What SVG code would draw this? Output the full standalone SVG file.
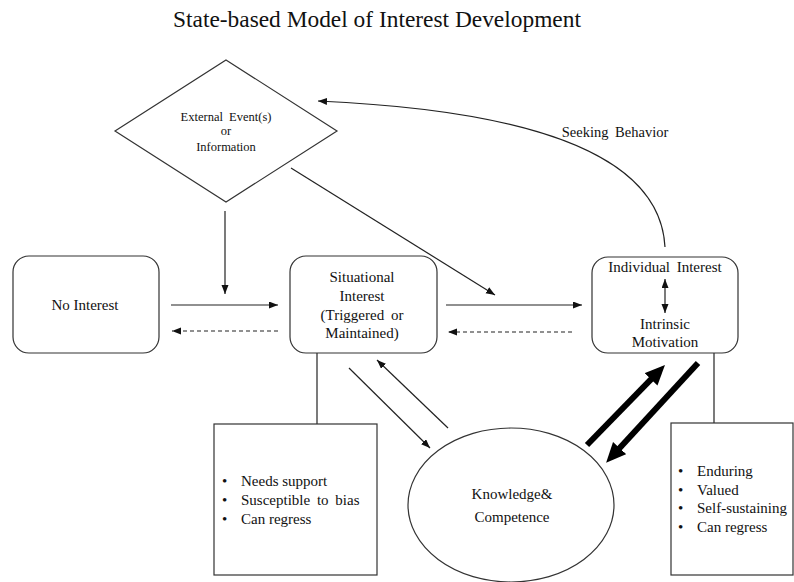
<svg xmlns="http://www.w3.org/2000/svg" width="794" height="582" viewBox="0 0 794 582" font-family="'Liberation Serif', 'DejaVu Serif', serif">
<style>
text{fill:#111;}
.t{font-size:15px;text-anchor:middle;}
.b{font-size:15px;}
.ws{word-spacing:3px;}
.shape{fill:#fff;stroke:#333;stroke-width:1.2;}
.ln{fill:none;stroke:#222;stroke-width:1.2;}
.dash{stroke-dasharray:4,3;}
.thick{fill:none;stroke:#000;stroke-width:6;}
</style>
<defs>
<marker id="ah" markerUnits="userSpaceOnUse" markerWidth="10" markerHeight="8" refX="9" refY="3.5" orient="auto-start-reverse">
<path d="M0,0 L9,3.5 L0,7 z" fill="#111"/>
</marker>
<marker id="big" markerUnits="userSpaceOnUse" markerWidth="22" markerHeight="20" refX="2" refY="9" orient="auto">
<path d="M0,0 L20,9 L0,18 z" fill="#000"/>
</marker>
</defs>
<rect width="794" height="582" fill="#fff"/>
<text x="173" y="27" font-size="23.4">State-based Model of Interest Development</text>

<g id="connectors">
<path class="ln" d="M665,247 C660,150 520,110 318,101" marker-end="url(#ah)"/>
<line class="ln" x1="225" y1="211" x2="225" y2="294" marker-end="url(#ah)"/>
<line class="ln" x1="291" y1="168" x2="495" y2="295" marker-end="url(#ah)"/>
<line class="ln" x1="171" y1="305" x2="278" y2="305" marker-end="url(#ah)"/>
<line class="ln dash" x1="278" y1="331" x2="172" y2="331" marker-end="url(#ah)"/>
<line class="ln" x1="446" y1="305" x2="582" y2="305" marker-end="url(#ah)"/>
<line class="ln dash" x1="572" y1="332" x2="448" y2="332" marker-end="url(#ah)"/>
<line class="ln" x1="349" y1="368" x2="430" y2="448" marker-end="url(#ah)"/>
<line class="ln" x1="448" y1="428" x2="377" y2="360" marker-end="url(#ah)"/>
<line class="ln" x1="317" y1="353" x2="317" y2="424"/>
<line class="ln" x1="714" y1="353" x2="714" y2="423"/>
<line class="thick" x1="587" y1="445" x2="652.4" y2="377.9" marker-end="url(#big)"/>
<line class="thick" x1="698" y1="363" x2="618.3" y2="449.5" marker-end="url(#big)"/>
</g>

<g id="external">
<polygon class="shape" points="226,60 337,131 226,202 115,131"/>
<text class="ws" x="226" y="121" font-size="12.5" text-anchor="middle">External Event(s)</text>
<text x="226" y="135" font-size="12.5" text-anchor="middle">or</text>
<text x="226" y="151" font-size="12.5" text-anchor="middle">Information</text>
</g>
<text class="ws" x="615" y="137" font-size="14.5" text-anchor="middle">Seeking Behavior</text>

<g id="no-interest">
<rect class="shape" x="13" y="256" width="146" height="97" rx="16"/>
<text class="t" x="85" y="310">No Interest</text>
</g>

<g id="situational">
<rect class="shape" x="290" y="256" width="147" height="97" rx="16"/>
<text class="t" x="362" y="282">Situational</text>
<text class="t" x="362" y="301">Interest</text>
<text class="t ws" x="362" y="320">(Triggered or</text>
<text class="t" x="362" y="338">Maintained)</text>
</g>

<g id="individual">
<rect class="shape" x="592" y="257" width="146" height="96" rx="16"/>
<text class="t ws" x="665" y="272">Individual Interest</text>
<line class="ln" x1="665" y1="279" x2="665" y2="313" marker-start="url(#ah)" marker-end="url(#ah)"/>
<text class="t" x="665" y="329">Intrinsic</text>
<text class="t" x="665" y="347">Motivation</text>
</g>

<g id="situational-notes">
<rect class="shape" x="214" y="424" width="163" height="151"/>
<text class="b" x="222" y="486">•</text><text class="b" x="241" y="486">Needs support</text>
<text class="b" x="222" y="505">•</text><text class="b ws" x="241" y="505">Susceptible to bias</text>
<text class="b" x="222" y="524">•</text><text class="b" x="241" y="524">Can regress</text>
</g>

<g id="knowledge">
<ellipse class="shape" cx="511" cy="505" rx="103" ry="77"/>
<text class="t" x="512" y="499">Knowledge&amp;</text>
<text class="t" x="512" y="522">Competence</text>
</g>

<g id="individual-notes">
<rect class="shape" x="671" y="423" width="122" height="152"/>
<text class="b" x="678" y="476">•</text><text class="b" x="697" y="476">Enduring</text>
<text class="b" x="678" y="495">•</text><text class="b" x="697" y="495">Valued</text>
<text class="b" x="678" y="513">•</text><text class="b" x="697" y="513">Self-sustaining</text>
<text class="b" x="678" y="532">•</text><text class="b" x="697" y="532">Can regress</text>
</g>
</svg>
